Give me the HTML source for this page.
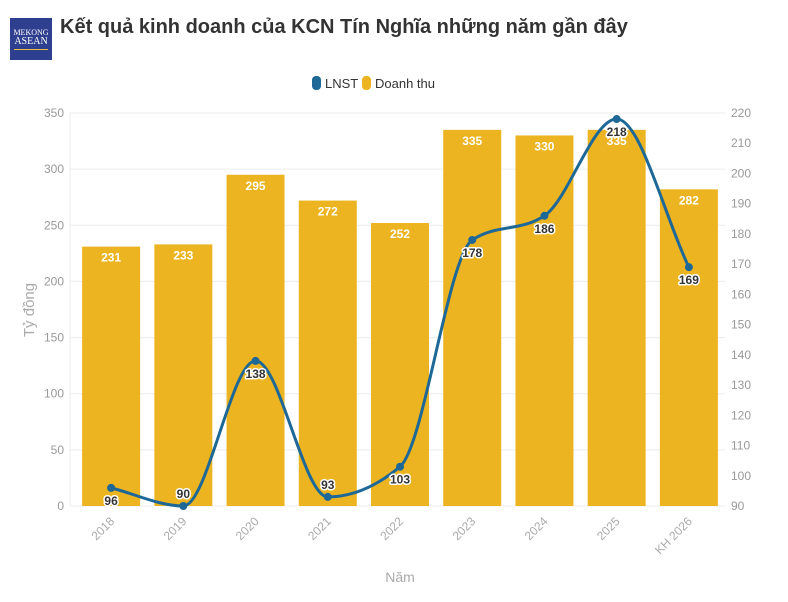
<!DOCTYPE html>
<html><head><meta charset="utf-8"><style>
body{margin:0;background:#fff;width:788px;height:602px;overflow:hidden;font-family:"Liberation Sans","DejaVu Sans",sans-serif}
</style></head><body>
<div style="position:absolute;left:10px;top:18px;width:42px;height:42px;background:#2f3f8f;color:#fff;font-family:'Liberation Serif',serif;text-align:center;line-height:1">
<div style="font-size:8px;margin-top:11px">MEKONG</div><div style="font-size:10px">ASEAN</div><div style="height:1px;background:#e8c040;margin:2px 4px 0"></div></div>
<div style="position:absolute;left:60px;top:16px;font-size:20px;font-weight:bold;color:#333">Kết quả kinh doanh của KCN Tín Nghĩa những năm gần đây</div>
<svg id="c" width="788" height="602" style="position:absolute;left:0;top:0" xmlns="http://www.w3.org/2000/svg"></svg>
<script>
const categories=["2018","2019","2020","2021","2022","2023","2024","2025","KH 2026"];
const revenue=[231,233,295,272,252,335,330,335,282];
const profit=[96,90,138,93,103,178,186,218,169];
const leftTicks=[0,50,100,150,200,250,300,350];
const rightTicks=[90,100,110,120,130,140,150,160,170,180,190,200,210,220];
const svg=document.getElementById('c');const NS='http://www.w3.org/2000/svg';
const X0=75,X1=725,Y0=506,Y1=113;
const bw=(X1-X0)/categories.length;
const xc=i=>X0+bw*(i+0.5);
const yL=v=>Y0-(v/350)*(Y0-Y1);
const yR=v=>Y0-((v-90)/130)*(Y0-Y1);
function el(t,a,txt){const e=document.createElementNS(NS,t);for(const k in a)e.setAttribute(k,a[k]);if(txt!=null)e.textContent=txt;svg.appendChild(e);return e;}
leftTicks.forEach(v=>{const g=el('line',{x1:X0-5,x2:X1,y1:yL(v),y2:yL(v),stroke:'#ececec'});

const t=el('text',{x:64,y:yL(v)+4,'text-anchor':'end','font-size':12,fill:'#999'},v);
});
rightTicks.forEach(v=>{const t=el('text',{x:731,y:yR(v)+4,'font-size':12,fill:'#999'},v);
});
el('line',{x1:70,x2:70,y1:Y1,y2:Y0,stroke:'#ececec'});
const yt=el('text',{x:34,y:310,'font-size':15,fill:'#aaa','text-anchor':'middle',transform:'rotate(-90 34 310)'},'Tỷ đồng');

const xt=el('text',{x:400,y:582,'font-size':14,fill:'#aaa','text-anchor':'middle'},'Năm');

categories.forEach((c,i)=>{const b=el('rect',{x:xc(i)-29,y:yL(revenue[i]),width:58,height:Y0-yL(revenue[i]),fill:'#edb421'});

const l=el('text',{x:xc(i),y:yL(revenue[i])+15,'text-anchor':'middle','font-size':12,'font-weight':'bold',fill:'#fff'},revenue[i]);

const tx=xc(i)+4,ty=522;
const t=el('text',{x:tx,y:ty,'text-anchor':'end','font-size':12,fill:'#aaa',transform:`rotate(-45 ${tx} ${ty})`},c);
});
const pts=profit.map((v,i)=>[xc(i),yR(v)]);
// monotone X cubic
const n=pts.length,dx=[],m=[],t=[];
for(let i=0;i<n-1;i++){dx.push(pts[i+1][0]-pts[i][0]);m.push((pts[i+1][1]-pts[i][1])/dx[i]);}
t[0]=m[0];t[n-1]=m[n-2];
for(let i=1;i<n-1;i++){if(m[i-1]*m[i]<=0)t[i]=0;else{const h0=dx[i-1],h1=dx[i];const p=(m[i-1]*h1+m[i]*h0)/(h0+h1);t[i]=(Math.sign(m[i-1])+Math.sign(m[i]))*Math.min(Math.abs(m[i-1]),Math.abs(m[i]),0.5*Math.abs(p));}}
let d=`M${pts[0][0]},${pts[0][1]}`;
for(let i=0;i<n-1;i++){const h=dx[i]/3;d+=` C${pts[i][0]+h},${pts[i][1]+t[i]*h} ${pts[i+1][0]-h},${pts[i+1][1]-t[i+1]*h} ${pts[i+1][0]},${pts[i+1][1]}`;}
const ln=el('path',{d:d,fill:'none',stroke:'#1d6896','stroke-width':3});

const below=[true,false,true,false,true,true,true,true,true];
pts.forEach((p,i)=>{const c=el('circle',{cx:p[0],cy:p[1],r:4,fill:'#1d6896'});

const ty=below[i]?p[1]+17:p[1]-8;
const tt=el('text',{x:p[0],y:ty,'text-anchor':'middle','font-size':12,'font-weight':'bold',fill:'#333',stroke:'#fff','stroke-width':3,'paint-order':'stroke','stroke-linejoin':'round'},profit[i]);
});
const lg=[['LNST','#1d6896',312],['Doanh thu','#edb421',362]];
lg.forEach(([nm,c,x])=>{const r=el('rect',{x:x,y:76,width:9,height:14,rx:4,fill:c});

const tx=el('text',{x:x+13,y:88,'font-size':13,fill:'#333'},nm);
});
</script></body></html>
